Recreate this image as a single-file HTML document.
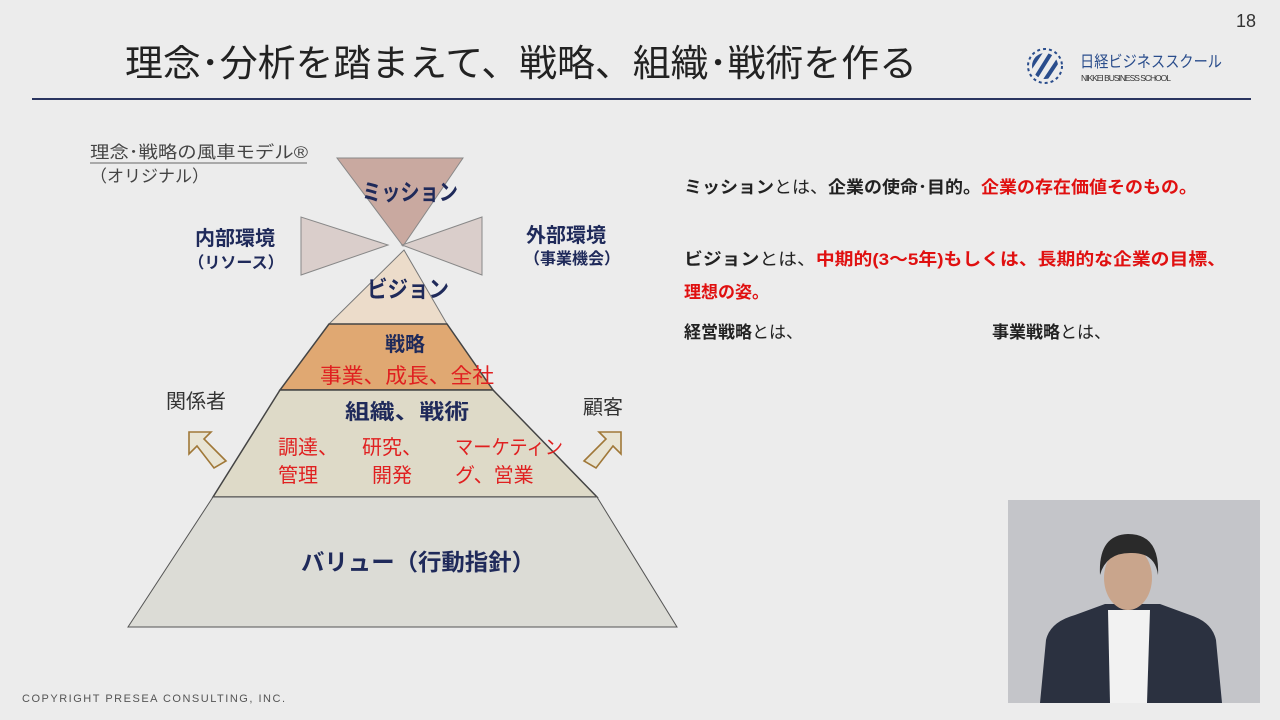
<!DOCTYPE html>
<html><head><meta charset="utf-8"><style>
html,body{margin:0;padding:0;background:#ececec;}
svg{display:block;font-family:"Liberation Sans","Noto Sans CJK JP",sans-serif;}
</style></head><body>
<svg width="1280" height="720" viewBox="0 0 1280 720" xmlns="http://www.w3.org/2000/svg">
<rect width="1280" height="720" fill="#ececec"/>
<text x="1246" y="27" font-size="18" fill="#333" text-anchor="middle">18</text>
<text x="125" y="76" font-size="37" fill="#222" textLength="792" lengthAdjust="spacingAndGlyphs">理念･分析を踏まえて、戦略、組織･戦術を作る</text>
<!-- logo -->
<g transform="translate(1045,66)">
<circle r="17" fill="none" stroke="#2a4d8c" stroke-width="2" stroke-dasharray="3 3"/>
<clipPath id="lc"><circle r="13"/></clipPath>
<g clip-path="url(#lc)" stroke="#2a4d8c" stroke-width="4">
<line x1="-20" y1="10" x2="0" y2="-20"/><line x1="-12" y1="16" x2="8" y2="-16"/><line x1="-4" y1="20" x2="16" y2="-10"/><line x1="4" y1="22" x2="22" y2="-4"/>
</g></g>
<text x="1080" y="67" font-size="16" fill="#2a4d8c" textLength="142" lengthAdjust="spacingAndGlyphs">日経ビジネススクール</text>
<text x="1081" y="81" font-size="8.5" fill="#333" textLength="90">NIKKEI BUSINESS SCHOOL</text>
<rect x="32" y="98" width="1219" height="2" fill="#2a3560"/>
<!-- diagram -->
<text x="90" y="158" font-size="17" fill="#444" textLength="218" lengthAdjust="spacingAndGlyphs">理念･戦略の風車モデル®</text>
<line x1="90" y1="163" x2="307" y2="163" stroke="#666" stroke-width="1"/>
<text x="90" y="182" font-size="17" fill="#444">（オリジナル）</text>
<polygon points="337,158 463,158 403,246" fill="#c9a9a0" stroke="#888" stroke-width="1"/>
<polygon points="301,217 301,275 388,245" fill="#dacecb" stroke="#888" stroke-width="1"/>
<polygon points="482,217 482,275 402,245" fill="#dacecb" stroke="#888" stroke-width="1"/>
<polygon points="404,250 447,324 329,324" fill="#ecdcca" stroke="#777"/>
<polygon points="329,324 447,324 493,390 280,390" fill="#e0a872" stroke="#444" stroke-width="1.5"/>
<polygon points="280,390 493,390 597,497 213,497" fill="#dedac8" stroke="#444" stroke-width="1.5"/>
<polygon points="213,497 597,497 677,627 128,627" fill="#dcdcd6" stroke="#555"/>
<text x="410" y="200" font-size="23" font-weight="bold" fill="#1f2a5a" text-anchor="middle" textLength="96" lengthAdjust="spacingAndGlyphs">ミッション</text>
<text x="235" y="245" font-size="20" font-weight="bold" fill="#1f2a5a" text-anchor="middle">内部環境</text>
<text x="236" y="268" font-size="16" font-weight="bold" fill="#1f2a5a" text-anchor="middle">（リソース）</text>
<text x="566" y="242" font-size="20" font-weight="bold" fill="#1f2a5a" text-anchor="middle">外部環境</text>
<text x="572" y="264" font-size="16" font-weight="bold" fill="#1f2a5a" text-anchor="middle">（事業機会）</text>
<text x="408" y="297" font-size="23" font-weight="bold" fill="#1f2a5a" text-anchor="middle" textLength="82" lengthAdjust="spacingAndGlyphs">ビジョン</text>
<text x="405" y="351" font-size="20" font-weight="bold" fill="#1f2a5a" text-anchor="middle">戦略</text>
<text x="407" y="383" font-size="21" fill="#e02020" text-anchor="middle" textLength="174" lengthAdjust="spacingAndGlyphs">事業、成長、全社</text>
<text x="407" y="419" font-size="21" font-weight="bold" fill="#1f2a5a" text-anchor="middle" textLength="124" lengthAdjust="spacingAndGlyphs">組織、戦術</text>
<g font-size="20" fill="#e02020">
<text x="278" y="454">調達、</text><text x="278" y="482">管理</text>
<text x="362" y="454">研究、</text><text x="372" y="482">開発</text>
<text x="455" y="454" textLength="108" lengthAdjust="spacingAndGlyphs">マーケティン</text><text x="455" y="482">グ、営業</text>
</g>
<text x="196" y="408" font-size="20" fill="#333" text-anchor="middle">関係者</text>
<text x="603" y="414" font-size="20" fill="#333" text-anchor="middle">顧客</text>
<polygon points="189,432 211,432 204,439 226,461 214,468 197,446 189,454" fill="#e8e4d4" stroke="#a07838" stroke-width="1.6"/>
<polygon points="621,432 599,432 606,439 584,461 596,468 613,446 621,454" fill="#e8e4d4" stroke="#a07838" stroke-width="1.6"/>
<text x="418" y="570" font-size="23" font-weight="bold" fill="#1f2a5a" text-anchor="middle" textLength="234" lengthAdjust="spacingAndGlyphs">バリュー（行動指針）</text>
<!-- right text -->
<g font-size="17" font-weight="bold">
<text x="684" y="193" textLength="513" lengthAdjust="spacingAndGlyphs"><tspan fill="#222">ミッション</tspan><tspan fill="#222" font-weight="normal">とは、</tspan><tspan fill="#222">企業の使命･目的。</tspan><tspan fill="#e01010">企業の存在価値そのもの。</tspan></text>
<text x="684" y="265" textLength="542" lengthAdjust="spacingAndGlyphs"><tspan fill="#222">ビジョン</tspan><tspan fill="#222" font-weight="normal">とは、</tspan><tspan fill="#e01010">中期的(3～5年)もしくは、長期的な企業の目標、</tspan></text>
<text x="684" y="298" fill="#e01010">理想の姿。</text>
<text x="684" y="338"><tspan fill="#222">経営戦略</tspan><tspan fill="#222" font-weight="normal">とは、</tspan></text>
<text x="992" y="338"><tspan fill="#222">事業戦略</tspan><tspan fill="#222" font-weight="normal">とは、</tspan></text>
</g>
<text x="22" y="702" font-size="11" fill="#555" textLength="263">COPYRIGHT PRESEA CONSULTING, INC.</text>
<!-- video -->
<rect x="1008" y="500" width="252" height="203" fill="#c4c5c9"/>
<path d="M1040,703 L1046,640 Q1050,622 1075,615 L1105,604 L1160,604 L1190,615 Q1212,622 1216,640 L1222,703 Z" fill="#2b3140"/>
<polygon points="1108,610 1150,610 1147,703 1110,703" fill="#f2f2f2"/>
<ellipse cx="1128" cy="578" rx="24" ry="32" fill="#c9a58c"/>
<path d="M1100,575 Q1098,535 1128,534 Q1160,534 1158,575 Q1155,552 1130,553 Q1106,553 1100,575 Z" fill="#2a2a2a"/>
</svg>
</body></html>
